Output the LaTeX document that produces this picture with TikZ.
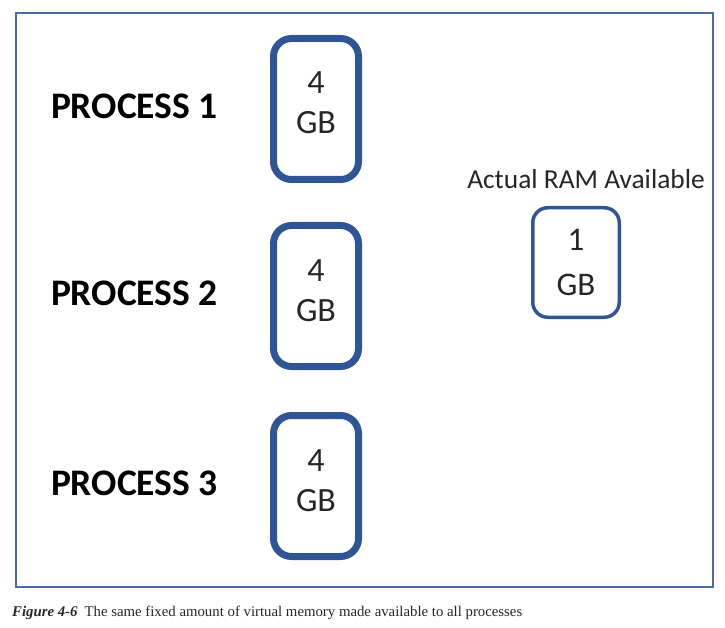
\documentclass[tikz,border=0pt]{standalone}
\usepackage{xcolor}
\usepackage{tikz}
\usepackage{fontspec}
\setmainfont{Carlito}
\newfontfamily\captionfont{Liberation Serif}
\usetikzlibrary{positioning}
\definecolor{boxblue}{RGB}{47,85,151}
\definecolor{frameblue}{RGB}{72,106,168}
\definecolor{memgray}{RGB}{38,38,38}

\tikzset{
    membox/.style={rectangle, draw=boxblue, line width=7pt, rounded corners=18pt,
        minimum width=85pt, minimum height=141pt, inner sep=0pt, align=center,
        text=memgray, font=\fontsize{34}{40}\selectfont, text height=63pt, text depth=13pt},
    rambox/.style={rectangle, draw=boxblue, line width=3.5pt, rounded corners=15pt,
        minimum width=86.5pt, minimum height=109.5pt, inner sep=0pt, align=center,
        text=memgray, font=\fontsize{33}{45}\selectfont},
    proclabel/.style={inner sep=0pt, font=\fontsize{37.5}{44}\selectfont\bfseries},
}

\begin{document}
\begin{tikzpicture}[x=1pt, y=-1pt, node distance=40pt]
    \useasboundingbox (0,0) rectangle (725,628);
    % outer frame
    \draw[frameblue, line width=2pt] (16,13) rectangle (713,587);

    % virtual memory per process
    \node[membox] (mem1) at (316,109) {4\\GB};
    \node[membox, below=39pt of mem1] (mem2) {4\\GB};
    \node[membox, below=42pt of mem2] (mem3) {4\\GB};

    \node[proclabel, left=52pt of mem1, yshift=2.5pt] (proc1) {PROCESS 1};
    \node[proclabel, left=52pt of mem2, yshift=2.5pt] (proc2) {PROCESS 2};
    \node[proclabel, left=52pt of mem3, yshift=2.5pt] (proc3) {PROCESS 3};

    % physical memory
    \node[rambox] (ram) at (576,262.5) {1\\GB};
    \node[above=17pt of ram, xshift=10pt, inner sep=0pt, text=memgray,
          font=\fontsize{27.4}{32}\selectfont] (ramlabel) {Actual RAM Available};

    \node[anchor=base west, inner sep=0pt, text=memgray, font=\captionfont\fontsize{14.8}{18}\selectfont]
        (caption) at (12,616) {\textbf{\textit{Figure 4-6}}\hspace{7pt}The same fixed amount of virtual memory made available to all processes};
\end{tikzpicture}
\end{document}
